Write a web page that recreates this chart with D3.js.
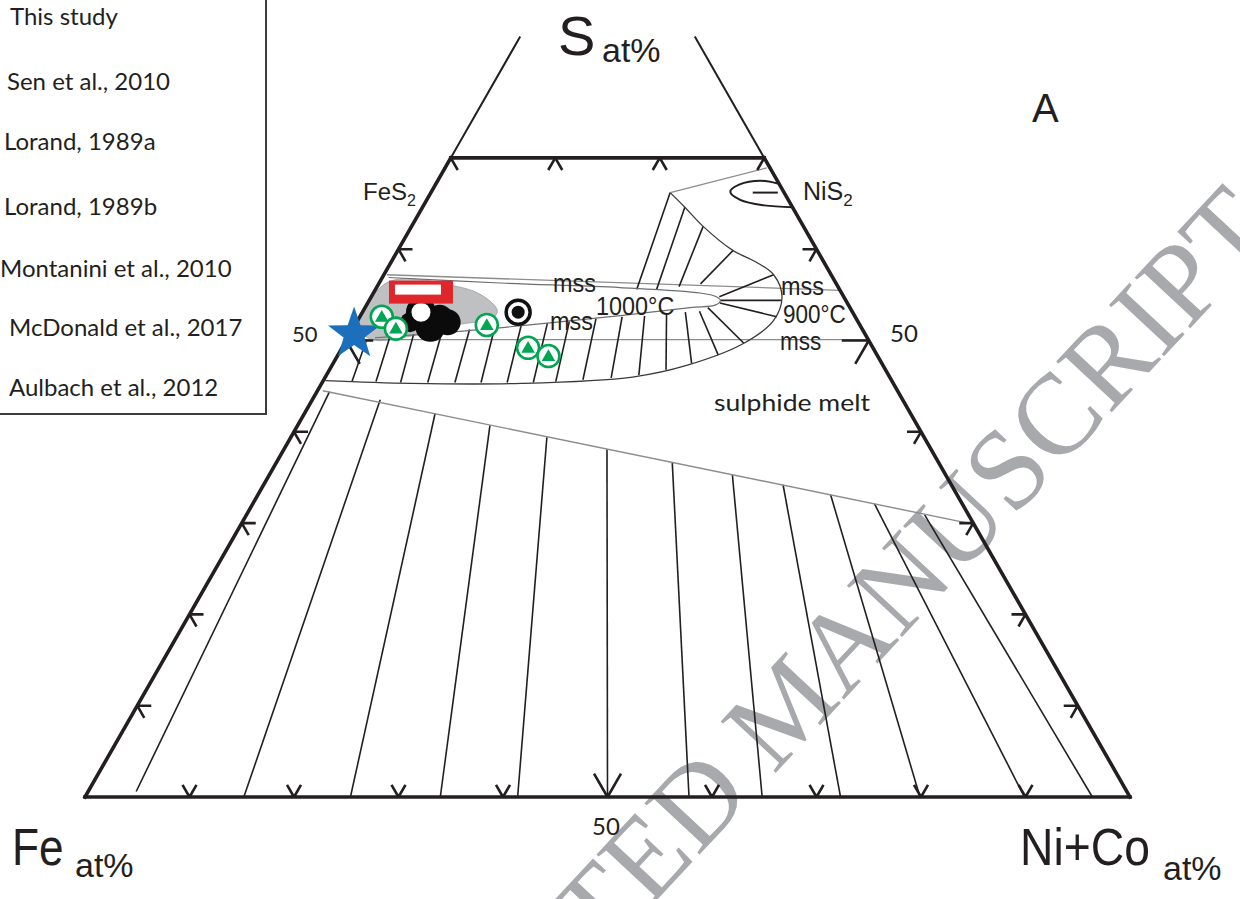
<!DOCTYPE html>
<html>
<head>
<meta charset="utf-8">
<script src="https://cdn.jsdelivr.net/npm/d3@7"></script>
<style>
html,body{margin:0;padding:0;background:#fff;}
svg{display:block;}
</style>
</head>
<body>
<svg id="chart" width="1240" height="899"></svg>
<script>
// ===== DATA (compositions as [Ni+Co at%, S at%]; Fe = 100 - Ni - S) =====
const gridTicks = [10, 20, 30, 40, 50, 60, 70, 80, 90];
const sideTicks = [10, 20, 30, 40, 50, 60];
const topTicks = [0, 10, 20, 30];
const topCutS = 70;
const guideTopS = 83.2;
const legendLabels = ["This study", "Sen et al., 2010", "Lorand, 1989a", "Lorand, 1989b",
  "Montanini et al., 2010", "McDonald et al., 2017", "Aulbach et al., 2012"];

// sulphide melt lower boundary and tie lines to the Fe-Ni join
const meltBoundary = [[0.5, 44.5], [69.5, 30.0]];
const meltTieTop = [[1.2, 44.4], [6.5, 43.5], [12.5, 42.0], [18.4, 40.7], [24.5, 39.4], [30.9, 38.1],
  [37.9, 36.6], [44.3, 35.3], [49.7, 34.2], [54.8, 33.1], [59.5, 32.1], [64.9, 30.9]];
const meltTieBottom = [[4.6, 0.6], [15.2, 0], [25.4, 0], [34.0, 0], [41.4, 0], [50.0, 0],
  [57.8, 0], [64.8, 0], [72.3, 0], [79.9, 0], [89.9, 0], [96.4, 0]];

// mss fields
const mssUpperLine = [[0.3, 57.2], [44.5, 55.5]];
const mss50Line = [[0, 50.1], [49.9, 50.1]];
const mss1000 = [[0.6, 56.9], [11.6, 56.3], [23.3, 55.8], [31.3, 55.2], [33.0, 54.8], [33.6, 54.4],
  [33.4, 53.9], [31.1, 53.6], [23.1, 52.5], [12.2, 51.2], [2.6, 50.3]];
const mss900 = [[0.2, 45.6], [8.5, 45.3], [19.1, 45.3], [29.4, 46.0], [34.0, 47.3], [38.2, 49.7],
  [39.8, 52.2], [39.3, 54.8], [37.3, 57.2], [34.9, 58.6], [32.0, 59.9], [27.9, 62.5],
  [25.1, 64.6], [22.9, 66.2]];
const mss900Tail = [[22.9, 66.2], [30.8, 68.9]];
const mssTieFrom = [[1.9, 50.1], [4.0, 50.3], [6.1, 50.7], [8.7, 50.9], [11.2, 51.2], [13.5, 51.4],
  [15.9, 51.7], [18.3, 51.9], [20.3, 52.1], [22.7, 52.4], [25.1, 52.6], [27.2, 52.7],
  [29.2, 52.9], [30.9, 53.1], [32.2, 53.2], [32.8, 53.6],
  [33.7, 54.1], [33.6, 54.4], [33.3, 54.8],
  [25.0, 55.6], [26.9, 55.6], [28.9, 55.9], [30.8, 56.2]];
const mssTieTo = [[2.8, 45.5], [5.1, 45.5], [7.5, 45.4], [10.1, 45.4], [12.7, 45.4], [15.2, 45.4],
  [17.7, 45.4], [20.2, 45.4], [22.3, 45.5], [24.8, 45.7], [27.4, 45.9], [29.9, 46.2],
  [32.2, 46.8], [34.3, 47.5], [36.4, 48.4], [38.2, 49.7],
  [39.9, 52.6], [39.4, 54.4], [37.3, 57.2],
  [22.9, 66.2], [25.1, 64.6], [27.9, 62.5], [32.1, 59.9]];

// NiS2 field
const nis2Loop = [[32.7, 67.2], [30.9, 67.5], [29.1, 67.1], [28.6, 66.3], [30.0, 65.4], [32.6, 64.8], [35.4, 64.6]];
const nis2Bar = [[30.8, 66.2], [33.2, 66.2]];

// sample data
const grayField = [[0.8, 56.4], [7.7, 55.9], [10.6, 54.9], [12.8, 53.3], [12.8, 52.5], [9.7, 51.7],
  [5.6, 50.4], [2.4, 50.1], [0.4, 51.5]];
const blackPoints = [[5.6, 53.1], [7.3, 51.5], [8.7, 52.0], [5.1, 52.0], [7.7, 52.5]];
const blackRadius = [15, 15, 13, 10, 13];
const ringPoint = [5.6, 53.1];
const redPoint = [4.5, 55.3];
const targetPoint = [14.9, 53.1];
const greenPoints = [[2.1, 52.6], [4.1, 51.3], [12.6, 51.7], [17.8, 49.2], [20.2, 48.3]];
const starPoint = [0.4, 50.7];

// ===== DRAWING =====
const ink = "#231f20";
const svg = d3.select("#chart");
const xS = d3.scaleLinear().domain([0, 100]).range([85, 1130]);   // Ni + S/2
const yS = d3.scaleLinear().domain([0, 100]).range([797, -116]);  // S
const P = d => [xS(d[0] + d[1] / 2), yS(d[1])];
const lineGen = d3.line().x(d => P(d)[0]).y(d => P(d)[1]);
const curveGen = d3.line().x(d => P(d)[0]).y(d => P(d)[1]).curve(d3.curveCatmullRom.alpha(0.5));
const closedGen = d3.line().x(d => P(d)[0]).y(d => P(d)[1]).curve(d3.curveCatmullRomClosed.alpha(0.5));

// watermark (behind)
svg.append("text")
  .attr("transform", "translate(1279,233) rotate(-47)")
  .attr("text-anchor", "end")
  .attr("font-family", "'Liberation Serif','Times New Roman',serif")
  .attr("font-size", 115)
  .attr("fill", "#a7a9ac")
  .text("ACCEPTED MANUSCRIPT");

// gray field
svg.append("path").attr("d", closedGen(grayField))
  .attr("fill", "#bfc0c2").attr("stroke", "#9a9a9a").attr("stroke-width", 0.8);

// melt tie lines
svg.append("g").selectAll("line").data(meltTieTop).join("line")
  .attr("x1", d => P(d)[0]).attr("y1", d => P(d)[1])
  .attr("x2", (d, i) => P(meltTieBottom[i])[0]).attr("y2", (d, i) => P(meltTieBottom[i])[1])
  .attr("stroke", ink).attr("stroke-width", 1.6);
svg.append("path").attr("d", lineGen(meltBoundary))
  .attr("fill", "none").attr("stroke", "#8c8c8c").attr("stroke-width", 1.4);

// mss lines
svg.append("path").attr("d", lineGen(mssUpperLine))
  .attr("fill", "none").attr("stroke", "#8c8c8c").attr("stroke-width", 1.3);
svg.append("path").attr("d", lineGen(mss50Line))
  .attr("fill", "none").attr("stroke", "#8c8c8c").attr("stroke-width", 1.3);
svg.append("g").selectAll("line").data(mssTieFrom).join("line")
  .attr("x1", d => P(d)[0]).attr("y1", d => P(d)[1])
  .attr("x2", (d, i) => P(mssTieTo[i])[0]).attr("y2", (d, i) => P(mssTieTo[i])[1])
  .attr("stroke", ink).attr("stroke-width", 1.6);
svg.append("path").attr("d", curveGen(mss1000))
  .attr("fill", "none").attr("stroke", "#6d6e70").attr("stroke-width", 1.2);
svg.append("path").attr("d", curveGen(mss900))
  .attr("fill", "none").attr("stroke", "#3a3a3a").attr("stroke-width", 1.3);
svg.append("path").attr("d", lineGen(mss900Tail))
  .attr("fill", "none").attr("stroke", "#8c8c8c").attr("stroke-width", 1.2);

// NiS2 loop
svg.append("path").attr("d", curveGen(nis2Loop))
  .attr("fill", "none").attr("stroke", ink).attr("stroke-width", 2);
svg.append("path").attr("d", lineGen(nis2Bar))
  .attr("fill", "none").attr("stroke", ink).attr("stroke-width", 2);

// triangle frame
const frame = svg.append("g").attr("fill", "none").attr("stroke", ink).attr("stroke-linecap", "square");
frame.append("path").attr("d", lineGen([[0, 0], [100, 0]])).attr("stroke-width", 3.6);
frame.append("path").attr("d", lineGen([[0, 0], [0, topCutS]])).attr("stroke-width", 3.6);
frame.append("path").attr("d", lineGen([[100, 0], [100 - topCutS, topCutS]])).attr("stroke-width", 3.6);
frame.append("path").attr("d", lineGen([[0, topCutS], [100 - topCutS, topCutS]])).attr("stroke-width", 3.6);
frame.append("path").attr("d", lineGen([[0, topCutS], [0, guideTopS]])).attr("stroke-width", 2);
frame.append("path").attr("d", lineGen([[100 - topCutS, topCutS], [100 - guideTopS, guideTopS]])).attr("stroke-width", 2);

// chevron ticks
function chevron(pt, angles, L) {
  const [x, y] = P(pt);
  return angles.map(a => {
    const r = a * Math.PI / 180;
    return `M${x},${y}L${x + L * Math.cos(r)},${y - L * Math.sin(r)}`;
  }).join("");
}
const tickG = svg.append("g").attr("fill", "none").attr("stroke", ink).attr("stroke-width", 2.6);
const tickLen = v => v === 50 ? 27 : 14;
gridTicks.forEach(v => tickG.append("path").attr("d", chevron([v, 0], [60, 120], tickLen(v))));
sideTicks.forEach(v => tickG.append("path").attr("d", chevron([0, v], [0, -60], tickLen(v))));
sideTicks.forEach(v => tickG.append("path").attr("d", chevron([100 - v, v], [180, 240], tickLen(v))));
topTicks.forEach(v => tickG.append("path").attr("d", chevron([v, topCutS], [-60, -120], 14)));

// sample symbols
svg.append("g").selectAll("circle").data(blackPoints).join("circle")
  .attr("cx", d => P(d)[0]).attr("cy", d => P(d)[1]).attr("r", (d, i) => blackRadius[i])
  .attr("fill", "#0b0b0b");
svg.append("circle").attr("cx", P(ringPoint)[0]).attr("cy", P(ringPoint)[1]).attr("r", 9.5).attr("fill", "#fff");

const rp = P(redPoint);
svg.append("rect").attr("x", rp[0] - 32).attr("y", rp[1] - 11.5).attr("width", 64).attr("height", 23).attr("fill", "#e0262b");
svg.append("rect").attr("x", rp[0] - 26).attr("y", rp[1] - 7.5).attr("width", 46).attr("height", 10).attr("fill", "#fff");

const tp = P(targetPoint);
svg.append("circle").attr("cx", tp[0]).attr("cy", tp[1]).attr("r", 12).attr("fill", "#fff").attr("stroke", "#111").attr("stroke-width", 3.5);
svg.append("circle").attr("cx", tp[0]).attr("cy", tp[1]).attr("r", 6.5).attr("fill", "#111");

// star
const sp = P(starPoint);
const starPts = d3.range(10).map(i => {
  const R = i % 2 === 0 ? 27.5 : 11;
  const a = -Math.PI / 2 + i * Math.PI / 5;
  return [sp[0] + R * Math.cos(a), sp[1] + R * Math.sin(a)];
});
svg.append("path").attr("d", "M" + starPts.join("L") + "Z").attr("fill", "#1b6fbb");

// green
const gG = svg.append("g").selectAll("g").data(greenPoints).join("g")
  .attr("transform", d => `translate(${P(d)[0]},${P(d)[1]})`);
gG.append("circle").attr("r", 11).attr("fill", "#fff").attr("stroke", "#00a651").attr("stroke-width", 2.6);
gG.append("path").attr("d", d3.symbol(d3.symbolTriangle, 80)).attr("transform", "translate(0,1)").attr("fill", "#00a651");

// ===== TEXT =====
const sans = "'Liberation Sans', Arial, Helvetica, sans-serif";
const human = "Lato, 'Open Sans', sans-serif";
function label(x, y, txt, size, fam, sx, anchor) {
  return svg.append("text").attr("transform", `translate(${x},${y}) scale(${sx || 1},1)`)
    .attr("font-family", fam).attr("font-size", size).attr("fill", ink)
    .attr("text-anchor", anchor || "start").text(txt);
}
label(558, 55, "S", 56, sans);
label(602, 62, "at%", 34, sans);
label(12, 865, "Fe", 52, sans, 0.85);
label(75, 877, "at%", 34, sans);
label(1020, 865, "Ni+Co", 52, sans, 0.89);
label(1163, 880, "at%", 34, sans);
label(1032, 122, "A", 40, sans);

const fes = label(363, 200, "FeS", 24, sans);
fes.append("tspan").attr("font-size", 16).attr("dy", 6).text("2");
const nis = label(803, 200, "NiS", 25, sans);
nis.append("tspan").attr("font-size", 17).attr("dy", 6).text("2");

label(553, 292, "mss", 26, sans, 0.9);
label(596, 315, "1000°C", 26, sans, 0.9);
label(550, 330, "mss", 26, sans, 0.9);
label(781, 295, "mss", 26, sans, 0.9);
label(783, 323, "900°C", 25, sans, 0.9);
label(780, 350, "mss", 25, sans, 0.9);

label(292, 342, "50", 22, human);
label(890, 342, "50", 24, human);
label(592, 835, "50", 24, human);
svg.append("text").attr("x", 714).attr("y", 411)
  .attr("font-family", human).attr("font-size", 23).attr("fill", ink)
  .attr("textLength", 156).attr("lengthAdjust", "spacingAndGlyphs")
  .text("sulphide melt");

// legend
svg.append("rect").attr("x", -10).attr("y", -10).attr("width", 276).attr("height", 424)
  .attr("fill", "none").attr("stroke", "#3d3d3d").attr("stroke-width", 2);
const legX = [10, 7, 4, 4, 0, 9, 9];
const legY = [25, 90, 150, 215, 277, 336, 396];
svg.append("g").selectAll("text").data(legendLabels).join("text")
  .attr("x", (d, i) => legX[i]).attr("y", (d, i) => legY[i])
  .attr("font-family", human).attr("font-size", 24).attr("fill", ink)
  .text(d => d);
</script>
</body>
</html>
